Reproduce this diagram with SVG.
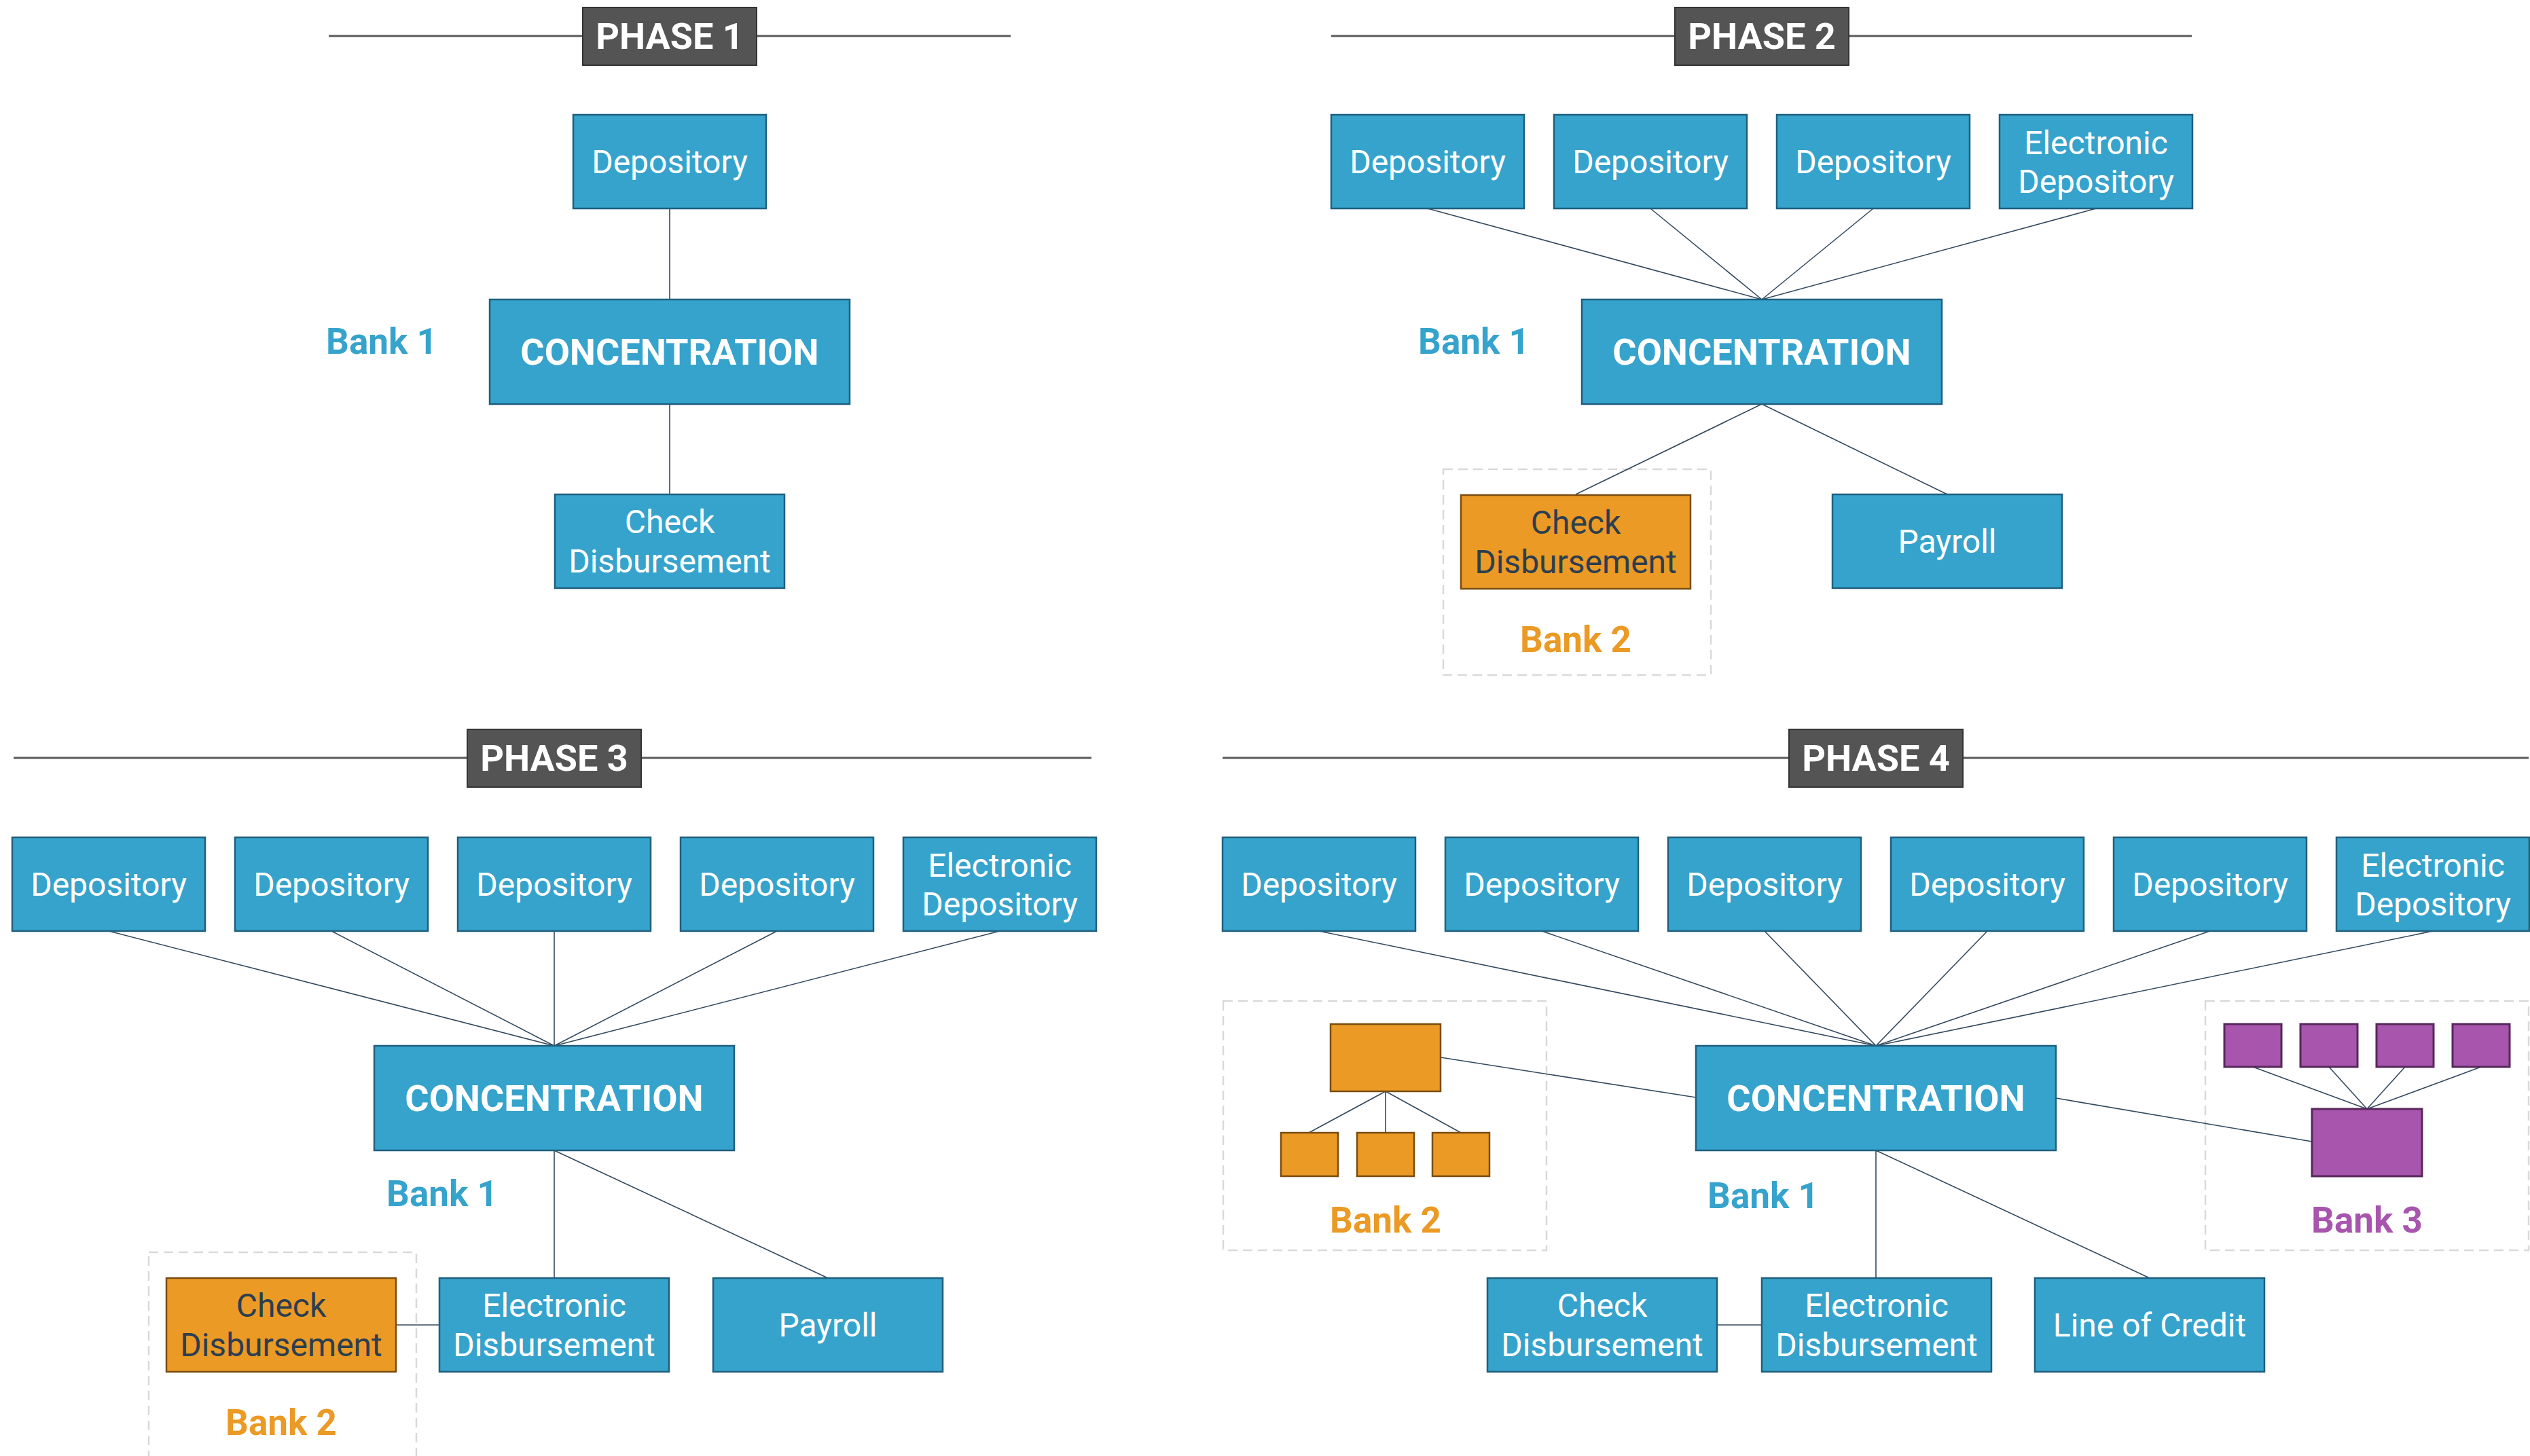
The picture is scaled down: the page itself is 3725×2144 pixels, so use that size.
<svg xmlns="http://www.w3.org/2000/svg" width="3725" height="2144" viewBox="0 0 3725 2144">
<style>
.bg{fill:#ffffff}
.hl{stroke:#5a5a5a;stroke-width:3;fill:none}
.ph{fill:#545454;stroke:#333333;stroke-width:2}
.pht{font-family:Roboto,"Liberation Sans",sans-serif;font-weight:700;font-size:54px;fill:#ffffff;text-anchor:middle}
.b{fill:#36a3cc;stroke:#1f5f7e;stroke-width:2.5}
.o{fill:#ea9a25;stroke:#7a4c10;stroke-width:2.5}
.p{fill:#a855ad;stroke:#57285b;stroke-width:3}
.t{font-family:Roboto,"Liberation Sans",sans-serif;font-size:48px;fill:#ffffff;text-anchor:middle}
.td{font-family:Roboto,"Liberation Sans",sans-serif;font-size:48px;fill:#2c3e50;text-anchor:middle}
.ct{font-family:Roboto,"Liberation Sans",sans-serif;font-weight:700;font-size:54px;fill:#ffffff;text-anchor:middle}
.lb{font-family:Roboto,"Liberation Sans",sans-serif;font-weight:700;font-size:53px;text-anchor:middle}
.l1{fill:#36a3cc}.l2{fill:#ea9a25}.l3{fill:#a855ad}
.dash{fill:none;stroke:#d9d9d9;stroke-width:2.5;stroke-dasharray:14 8}
.c{stroke:#34495e;stroke-width:1.6;fill:none}
</style>
<rect class="bg" x="0" y="0" width="3725" height="2144"/>

<!-- headers -->
<g id="header-phase1">
<line class="hl" x1="484" y1="53" x2="1488" y2="53"/>
<rect class="ph" x="858" y="11" width="256" height="85"/>
<text class="pht" x="986" y="72">PHASE 1</text>
</g>
<g id="header-phase2">
<line class="hl" x1="1960" y1="53" x2="3227" y2="53"/>
<rect class="ph" x="2466" y="11" width="256" height="85"/>
<text class="pht" x="2594" y="72">PHASE 2</text>
</g>
<g id="header-phase3">
<line class="hl" x1="20" y1="1116" x2="1607" y2="1116"/>
<rect class="ph" x="688" y="1074" width="256" height="85"/>
<text class="pht" x="816" y="1135">PHASE 3</text>
</g>
<g id="header-phase4">
<line class="hl" x1="1800" y1="1116" x2="3723" y2="1116"/>
<rect class="ph" x="2634" y="1074" width="256" height="85"/>
<text class="pht" x="2762" y="1135">PHASE 4</text>
</g>

<!-- bank group frames -->
<g id="frames">
<rect class="dash" x="2125" y="691" width="394" height="303"/>
<rect class="dash" x="219" y="1844" width="394" height="320"/>
<rect class="dash" x="1801" y="1474" width="476" height="367"/>
<rect class="dash" x="3247" y="1474" width="476" height="367"/>
</g>

<!-- connectors -->
<g id="connectors">
<!-- phase 1 -->
<line class="c" x1="986" y1="307" x2="986" y2="441"/>
<line class="c" x1="986" y1="595" x2="986" y2="728"/>
<!-- phase 2 -->
<line class="c" x1="2102" y1="307" x2="2594" y2="441"/>
<line class="c" x1="2430" y1="307" x2="2594" y2="441"/>
<line class="c" x1="2758" y1="307" x2="2594" y2="441"/>
<line class="c" x1="3086" y1="307" x2="2594" y2="441"/>
<line class="c" x1="2594" y1="595" x2="2320" y2="728"/>
<line class="c" x1="2594" y1="595" x2="2867" y2="728"/>
<!-- phase 3 -->
<line class="c" x1="160" y1="1371" x2="816" y2="1540"/>
<line class="c" x1="488" y1="1371" x2="816" y2="1540"/>
<line class="c" x1="816" y1="1371" x2="816" y2="1540"/>
<line class="c" x1="1144" y1="1371" x2="816" y2="1540"/>
<line class="c" x1="1472" y1="1371" x2="816" y2="1540"/>
<line class="c" x1="816" y1="1694" x2="816" y2="1882"/>
<line class="c" x1="816" y1="1694" x2="1219" y2="1882"/>
<line class="c" x1="583" y1="1951" x2="647" y2="1951"/>
<!-- phase 4 -->
<line class="c" x1="1942" y1="1371" x2="2762" y2="1540"/>
<line class="c" x1="2270" y1="1371" x2="2762" y2="1540"/>
<line class="c" x1="2598" y1="1371" x2="2762" y2="1540"/>
<line class="c" x1="2926" y1="1371" x2="2762" y2="1540"/>
<line class="c" x1="3254" y1="1371" x2="2762" y2="1540"/>
<line class="c" x1="3582" y1="1371" x2="2762" y2="1540"/>
<line class="c" x1="2762" y1="1694" x2="2762" y2="1882"/>
<line class="c" x1="2762" y1="1694" x2="3165" y2="1882"/>
<line class="c" x1="2528" y1="1951" x2="2594" y2="1951"/>
<line class="c" x1="2121" y1="1557" x2="2497" y2="1616"/>
<line class="c" x1="3027" y1="1617" x2="3404" y2="1681"/>
<line class="c" x1="2040" y1="1607" x2="1927" y2="1668"/>
<line class="c" x1="2040" y1="1607" x2="2040" y2="1668"/>
<line class="c" x1="2040" y1="1607" x2="2151" y2="1668"/>
<line class="c" x1="3317" y1="1571" x2="3485" y2="1633"/>
<line class="c" x1="3429" y1="1571" x2="3485" y2="1633"/>
<line class="c" x1="3541" y1="1571" x2="3485" y2="1633"/>
<line class="c" x1="3653" y1="1571" x2="3485" y2="1633"/>
</g>

<!-- PHASE 1 nodes -->
<g id="p1-depository"><rect class="b" x="844" y="169" width="284" height="138"/><text class="t" x="986" y="255">Depository</text></g>
<g id="p1-concentration"><rect class="b" x="721" y="441" width="530" height="154"/><text class="ct" x="986" y="537">CONCENTRATION</text></g>
<g id="p1-bank1"><text class="lb l1" x="562" y="521">Bank 1</text></g>
<g id="p1-check"><rect class="b" x="817" y="728" width="338" height="138"/><text class="t" x="986" y="785">Check</text><text class="t" x="986" y="843">Disbursement</text></g>

<!-- PHASE 2 nodes -->
<g id="p2-dep1"><rect class="b" x="1960" y="169" width="284" height="138"/><text class="t" x="2102" y="255">Depository</text></g>
<g id="p2-dep2"><rect class="b" x="2288" y="169" width="284" height="138"/><text class="t" x="2430" y="255">Depository</text></g>
<g id="p2-dep3"><rect class="b" x="2616" y="169" width="284" height="138"/><text class="t" x="2758" y="255">Depository</text></g>
<g id="p2-edep"><rect class="b" x="2944" y="169" width="284" height="138"/><text class="t" x="3086" y="227">Electronic</text><text class="t" x="3086" y="284">Depository</text></g>
<g id="p2-concentration"><rect class="b" x="2329" y="441" width="530" height="154"/><text class="ct" x="2594" y="537">CONCENTRATION</text></g>
<g id="p2-bank1"><text class="lb l1" x="2170" y="521">Bank 1</text></g>
<g id="p2-check"><rect class="o" x="2151" y="729" width="338" height="138"/><text class="td" x="2320" y="786">Check</text><text class="td" x="2320" y="844">Disbursement</text></g>
<g id="p2-bank2"><text class="lb l2" x="2320" y="960">Bank 2</text></g>
<g id="p2-payroll"><rect class="b" x="2698" y="728" width="338" height="138"/><text class="t" x="2867" y="814">Payroll</text></g>

<!-- PHASE 3 nodes -->
<g id="p3-dep1"><rect class="b" x="18" y="1233" width="284" height="138"/><text class="t" x="160" y="1319">Depository</text></g>
<g id="p3-dep2"><rect class="b" x="346" y="1233" width="284" height="138"/><text class="t" x="488" y="1319">Depository</text></g>
<g id="p3-dep3"><rect class="b" x="674" y="1233" width="284" height="138"/><text class="t" x="816" y="1319">Depository</text></g>
<g id="p3-dep4"><rect class="b" x="1002" y="1233" width="284" height="138"/><text class="t" x="1144" y="1319">Depository</text></g>
<g id="p3-edep"><rect class="b" x="1330" y="1233" width="284" height="138"/><text class="t" x="1472" y="1291">Electronic</text><text class="t" x="1472" y="1348">Depository</text></g>
<g id="p3-concentration"><rect class="b" x="551" y="1540" width="530" height="154"/><text class="ct" x="816" y="1636">CONCENTRATION</text></g>
<g id="p3-bank1"><text class="lb l1" x="651" y="1776">Bank 1</text></g>
<g id="p3-check"><rect class="o" x="245" y="1882" width="338" height="138"/><text class="td" x="414" y="1939">Check</text><text class="td" x="414" y="1997">Disbursement</text></g>
<g id="p3-bank2"><text class="lb l2" x="414" y="2113">Bank 2</text></g>
<g id="p3-edisb"><rect class="b" x="647" y="1882" width="338" height="138"/><text class="t" x="816" y="1939">Electronic</text><text class="t" x="816" y="1997">Disbursement</text></g>
<g id="p3-payroll"><rect class="b" x="1050" y="1882" width="338" height="138"/><text class="t" x="1219" y="1968">Payroll</text></g>

<!-- PHASE 4 nodes -->
<g id="p4-dep1"><rect class="b" x="1800" y="1233" width="284" height="138"/><text class="t" x="1942" y="1319">Depository</text></g>
<g id="p4-dep2"><rect class="b" x="2128" y="1233" width="284" height="138"/><text class="t" x="2270" y="1319">Depository</text></g>
<g id="p4-dep3"><rect class="b" x="2456" y="1233" width="284" height="138"/><text class="t" x="2598" y="1319">Depository</text></g>
<g id="p4-dep4"><rect class="b" x="2784" y="1233" width="284" height="138"/><text class="t" x="2926" y="1319">Depository</text></g>
<g id="p4-dep5"><rect class="b" x="3112" y="1233" width="284" height="138"/><text class="t" x="3254" y="1319">Depository</text></g>
<g id="p4-edep"><rect class="b" x="3440" y="1233" width="284" height="138"/><text class="t" x="3582" y="1291">Electronic</text><text class="t" x="3582" y="1348">Depository</text></g>
<g id="p4-concentration"><rect class="b" x="2497" y="1540" width="530" height="154"/><text class="ct" x="2762" y="1636">CONCENTRATION</text></g>
<g id="p4-bank1"><text class="lb l1" x="2596" y="1779">Bank 1</text></g>
<g id="p4-bank2-main"><rect class="o" x="1959" y="1508" width="162" height="99"/></g>
<g id="p4-bank2-sub1"><rect class="o" x="1886" y="1668" width="84" height="64"/></g>
<g id="p4-bank2-sub2"><rect class="o" x="1998" y="1668" width="84" height="64"/></g>
<g id="p4-bank2-sub3"><rect class="o" x="2109" y="1668" width="84" height="64"/></g>
<g id="p4-bank2"><text class="lb l2" x="2040" y="1815">Bank 2</text></g>
<g id="p4-bank3-sub1"><rect class="p" x="3275" y="1508" width="84" height="63"/></g>
<g id="p4-bank3-sub2"><rect class="p" x="3387" y="1508" width="84" height="63"/></g>
<g id="p4-bank3-sub3"><rect class="p" x="3499" y="1508" width="84" height="63"/></g>
<g id="p4-bank3-sub4"><rect class="p" x="3611" y="1508" width="84" height="63"/></g>
<g id="p4-bank3-main"><rect class="p" x="3404" y="1633" width="162" height="99"/></g>
<g id="p4-bank3"><text class="lb l3" x="3485" y="1815">Bank 3</text></g>
<g id="p4-check"><rect class="b" x="2190" y="1882" width="338" height="138"/><text class="t" x="2359" y="1939">Check</text><text class="t" x="2359" y="1997">Disbursement</text></g>
<g id="p4-edisb"><rect class="b" x="2594" y="1882" width="338" height="138"/><text class="t" x="2763" y="1939">Electronic</text><text class="t" x="2763" y="1997">Disbursement</text></g>
<g id="p4-loc"><rect class="b" x="2996" y="1882" width="338" height="138"/><text class="t" x="3165" y="1968">Line of Credit</text></g>
</svg>
